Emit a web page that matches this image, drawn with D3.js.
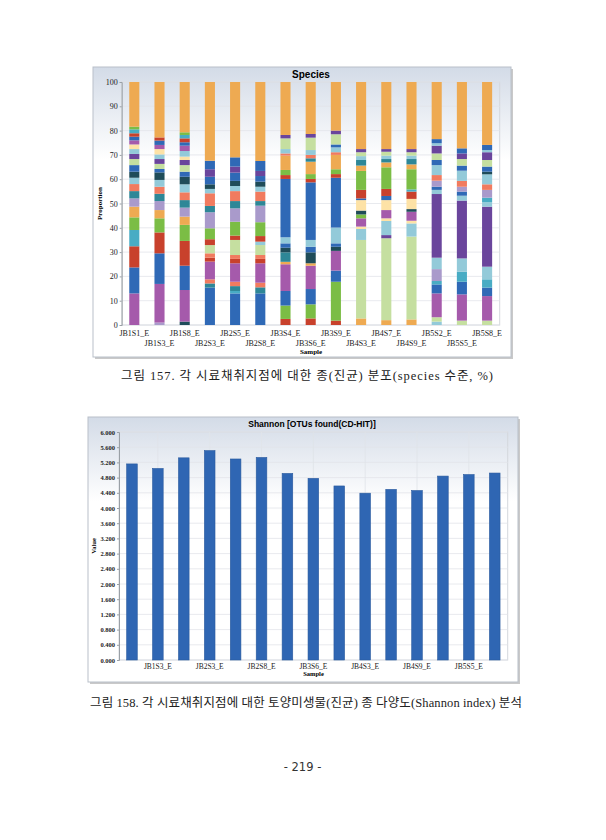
<!DOCTYPE html>
<html>
<head>
<meta charset="utf-8">
<script src="https://cdn.jsdelivr.net/npm/d3@7"></script>
<style>
  body { margin: 0; background: #fff; }
  svg { display: block; }
</style>
</head>
<body>
<svg id="page" width="606" height="840"></svg>
<script>
// Samples (x categories, shared by both charts)
var samples = ["JB1S1_E", "JB1S3_E", "JB1S8_E", "JB2S3_E", "JB2S5_E", "JB2S8_E", "JB3S4_E", "JB3S6_E",
               "JB3S9_E", "JB4S3_E", "JB4S7_E", "JB4S9_E", "JB5S2_E", "JB5S5_E", "JB5S8_E"];

// species groups -> colour
var speciesColor = {
    M: "#a55aab", B: "#2f69b6", R: "#c8412c", C: "#48acc4", G: "#7bbd45", O: "#eeaa52",
    L: "#a99acb", T: "#2e8797", S: "#f17b5f", LB: "#93cad9", DT: "#1f4c59", LG: "#c5dfa0",
    DP: "#6a459c", PY: "#fde2a6"
};

// species composition (%) of each sample, bottom to top
var JB1S1 = [["M",13],["B",10.7],["R",8.7],["C",6.7],["G",5.2],["O",4.4],["L",3.4],["T",3.0],["S",2.9],["LB",2.6],["DT",2.5],["B",2.7],["LG",2.5],["DP",2.1],["LB",2.0],["PY",1.9],["M",1.7],["B",1.5],["R",1.4],["C",1.6],["G",1.1],["O",18.4]];
var JB1S3 = [["L",1],["M",15.9],["B",12.6],["R",8.6],["G",5.8],["O",3.4],["L",3.7],["T",3.0],["S",2.9],["LB",2.8],["DT",3.1],["B",1.4],["LG",2.1],["DP",2.0],["LB",1.9],["PY",2.2],["M",1.7],["B",1.8],["R",1.3],["O",22.8]];
var JB1S8 = [["DT",1.4],["M",13.0],["B",10.0],["R",10.2],["G",6.6],["O",3.4],["L",3.7],["T",3.1],["S",3.2],["LB",3.3],["DT",3.1],["B",2.1],["LG",2.7],["DP",2.1],["PY",1.4],["LB",2.3],["M",2.2],["B",1.4],["R",1.6],["C",1.4],["G",1.1],["O",20.7]];
var JB2S3 = [["B",15.4],["T",1.7],["S",1.7],["M",7.3],["R",1.6],["S",1.8],["LG",3.4],["R",2.4],["G",4.5],["L",6.6],["T",2.6],["S",5.2],["LB",1.8],["DT",1.9],["B",3.1],["DP",3.1],["B",3.5],["O",32.4]];
var JB2S5 = [["B",13],["C",1],["T",2],["S",1.8],["M",7.6],["R",1.8],["S",1.6],["LG",6.2],["R",1.8],["G",5.7],["L",5.5],["T",3],["S",4.1],["LB",2.1],["DT",2.1],["B",3.4],["DP",2.5],["B",3.8],["O",31]];
var JB2S8 = [["B",13],["T",2.5],["S",1.9],["M",8],["R",1.8],["S",1.6],["LG",4.1],["LB",1.4],["R",2.3],["G",5.7],["L",6.8],["T",1.9],["S",3.9],["LB",2],["DT",2.1],["B",2.3],["DP",2.1],["B",4.1],["O",32.5]];
var JB3S4 = [["R",2.5],["G",5.5],["B",6],["M",11],["O",1],["T",3.9],["DT",1.9],["B",1.8],["LB",2.5],["B",24],["R",1.6],["G",2.1],["O",5.9],["S",0.9],["LB",1.8],["LG",4.4],["DP",1.4],["O",21.8]];
var JB3S6 = [["R",2.7],["G",5.8],["B",6.3],["M",9.6],["O",1],["DT",4.5],["B",2.3],["LB",2.8],["B",23.7],["R",1.4],["G",2],["O",5.1],["T",1.4],["S",1.4],["LB",2],["LG",5.1],["DP",1.5],["O",21.4]];
var JB3S9 = [["R",1.8],["G",16],["B",4.6],["M",8.1],["DT",1.7],["B",1.4],["LB",6.5],["B",20.5],["R",1.5],["G",2],["O",5.9],["S",1.1],["LB",2],["B",1.2],["LG",4.2],["DP",1.5],["O",20]];
var JB4S3 = [["O",2.7],["LG",32.3],["LB",4.5],["PY",1],["M",3.4],["G",1.6],["DT",1.6],["PY",4.3],["B",0.7],["R",3.5],["G",7.8],["O",2.2],["T",2.3],["LB",1.6],["LG",1.6],["DP",1.3],["O",27.6]];
var JB4S7 = [["O",2],["LG",33.7],["DP",1.3],["LB",5.8],["PY",1.1],["M",3.4],["PY",4.1],["B",1.7],["R",2.9],["G",8.9],["O",2],["T",1.4],["LB",1.4],["LG",1.6],["DP",1.1],["O",27.6]];
var JB4S9 = [["O",2.3],["LG",34.1],["LB",5.4],["PY",1.1],["M",3.7],["DT",1.1],["PY",4.2],["R",3],["C",0.9],["G",8.3],["O",2],["T",2.2],["LB",1.4],["LG",1.4],["DP",1.3],["O",27.6]];
var JB5S2 = [["LB",1.4],["LG",1.8],["M",9.8],["B",3.7],["C",1.4],["L",4.9],["LB",4.7],["DP",26.2],["LB",1.7],["B",1.3],["L",2.5],["S",2.3],["LB",4.1],["B",2.1],["LG",2.7],["DP",3.2],["LB",1],["B",1.7],["O",23.5]];
var JB5S5 = [["LG",1.8],["M",10.8],["B",5.2],["C",4.1],["LB",5.5],["DP",23.8],["LB",2],["B",1.7],["L",2],["S",2.4],["LB",4.2],["B",2.1],["LG",2.7],["DP",2.3],["B",2.1],["O",27.3]];
var JB5S8 = [["LG",1.8],["M",10.1],["B",3.5],["C",3.4],["LB",5.2],["DP",24.7],["LB",1.8],["C",1.9],["L",3.2],["S",2.3],["LB",4.1],["DT",1.1],["B",2.1],["LG",2.7],["DP",3.2],["LB",0.9],["B",2.1],["O",25.9]];
var composition = [JB1S1, JB1S3, JB1S8, JB2S3, JB2S5, JB2S8, JB3S4, JB3S6, JB3S9, JB4S3, JB4S7, JB4S9, JB5S2, JB5S5, JB5S8];

var proportionTicks = [0, 10, 20, 30, 40, 50, 60, 70, 80, 90, 100];

// Shannon index per sample
var shannon = [5.16, 5.04, 5.32, 5.51, 5.29, 5.33, 4.91, 4.78, 4.58, 4.39, 4.49, 4.46, 4.84, 4.88, 4.92];
var shannonTicks = d3.range(0, 6.0001, 0.4);
var shannonLabelled = ["JB1S3_E", "JB2S3_E", "JB2S8_E", "JB3S6_E", "JB4S3_E", "JB4S9_E", "JB5S5_E"];

//------------------------------------
var svg = d3.select("#page");
var serif = "'Liberation Serif', 'Times New Roman', serif";
var sans = "'Liberation Sans', Arial, sans-serif";
var kr = "'Liberation Serif', 'Noto Sans CJK KR', serif";

var defs = svg.append("defs");
var grad = defs.append("linearGradient").attr("id", "bg").attr("x1", 0).attr("y1", 0).attr("x2", 0).attr("y2", 1);
grad.append("stop").attr("offset", "0%").attr("stop-color", "#d3dbe7");
grad.append("stop").attr("offset", "32%").attr("stop-color", "#ffffff");
grad.append("stop").attr("offset", "100%").attr("stop-color", "#ffffff");

function frame(x, y, w, h) {
    svg.append("rect").attr("x", x + 2).attr("y", y + 2).attr("width", w).attr("height", h)
        .attr("fill", "#c9c9c9");
    svg.append("rect").attr("x", x).attr("y", y).attr("width", w).attr("height", h)
        .attr("fill", "url(#bg)").attr("stroke", "#b9c0c9").attr("stroke-width", 1);
}

// ================= chart 1: species stacked bars =================
frame(93, 67, 418, 290);
svg.append("text").attr("x", 311).attr("y", 77.5).attr("text-anchor", "middle")
    .style("font", "bold 10px " + sans).text("Species");

var x1 = d3.scaleBand().domain(samples).range([121.7, 499.7]).paddingInner(0.6).paddingOuter(0.3);
var y1 = d3.scaleLinear().domain([0, 100]).range([325, 82]);

var g1 = svg.append("g");
g1.append("rect").attr("x", 121.7).attr("y", 82).attr("width", 378).attr("height", 243)
    .attr("fill", "none").attr("stroke", "#d4d8dd");
g1.selectAll(".grid1").data(proportionTicks).enter().append("line")
    .attr("x1", 121.7).attr("x2", 499.7)
    .attr("y1", function (d) { return y1(d); }).attr("y2", function (d) { return y1(d); })
    .attr("stroke", "#e2e5ea").attr("stroke-width", 0.8);

composition.forEach(function (segs, i) {
    var acc = 0;
    var rows = segs.map(function (s) {
        var r = { key: s[0], y0: acc, y1: acc + s[1] };
        acc += s[1];
        return r;
    });
    g1.selectAll(".seg" + i).data(rows).enter().append("rect")
        .attr("x", x1(samples[i]))
        .attr("width", x1.bandwidth())
        .attr("y", function (d) { return y1(d.y1); })
        .attr("height", function (d) { return y1(d.y0) - y1(d.y1); })
        .attr("fill", function (d) { return speciesColor[d.key]; });
});

var ax1 = g1.append("g").attr("transform", "translate(121.7,0)")
    .call(d3.axisLeft(y1).tickValues(proportionTicks).tickSize(2).tickPadding(2));
ax1.select(".domain").attr("stroke", "#9aa0a6");
ax1.selectAll(".tick line").attr("stroke", "#9aa0a6");
ax1.selectAll("text").style("font", "8px " + serif).attr("fill", "#222");

g1.selectAll(".xl1").data(samples).enter().append("text")
    .attr("x", function (d) { return x1(d) + x1.bandwidth() / 2; })
    .attr("y", function (d, i) { return i % 2 === 0 ? 335.5 : 345.5; })
    .attr("text-anchor", "middle").style("font", "8px " + serif).attr("fill", "#222")
    .text(function (d) { return d; });
g1.append("text").attr("x", 311).attr("y", 354).attr("text-anchor", "middle")
    .style("font", "bold 7px " + serif).text("Sample");
g1.append("text").attr("transform", "translate(102,203.5) rotate(-90)").attr("text-anchor", "middle")
    .style("font", "bold 7px " + serif).text("Proportion");

svg.append("text").attr("x", 307).attr("y", 379.5).attr("text-anchor", "middle")
    .attr("textLength", 372).attr("lengthAdjust", "spacing")
    .style("font", "12.5px " + kr).attr("fill", "#222")
    .text("그림 157. 각 시료채취지점에 대한 종(진균) 분포(species 수준, %)");

// ================= chart 2: Shannon index =================
frame(88, 417, 430, 265);
svg.append("text").attr("x", 312).attr("y", 427).attr("text-anchor", "middle")
    .style("font", "bold 8.5px " + sans).text("Shannon [OTUs found(CD-HIT)]");

var x2 = d3.scaleBand().domain(samples).range([119, 507.7]).paddingInner(0.59).paddingOuter(0.295);
var y2 = d3.scaleLinear().domain([0, 6]).range([660, 432]);

var g2 = svg.append("g");
g2.append("rect").attr("x", 119).attr("y", 432).attr("width", 388.7).attr("height", 228)
    .attr("fill", "none").attr("stroke", "#d4d8dd");
g2.selectAll(".grid2").data(shannonTicks).enter().append("line")
    .attr("x1", 119).attr("x2", 507.7)
    .attr("y1", function (d) { return y2(d); }).attr("y2", function (d) { return y2(d); })
    .attr("stroke", "#e2e5ea").attr("stroke-width", 0.8);
g2.selectAll(".vgrid2").data(shannonLabelled).enter().append("line")
    .attr("x1", function (d) { return x2(d) + x2.bandwidth() / 2; })
    .attr("x2", function (d) { return x2(d) + x2.bandwidth() / 2; })
    .attr("y1", 432).attr("y2", 660)
    .attr("stroke", "#dfe3e8").attr("stroke-width", 0.8);

g2.selectAll(".bar2").data(shannon).enter().append("rect")
    .attr("x", function (d, i) { return x2(samples[i]); })
    .attr("width", x2.bandwidth())
    .attr("y", function (d) { return y2(d); })
    .attr("height", function (d) { return y2(0) - y2(d); })
    .attr("fill", "#2f66b3").attr("stroke", "#2a5a9e").attr("stroke-width", 0.6);

var ax2 = g2.append("g").attr("transform", "translate(119,0)")
    .call(d3.axisLeft(y2).tickValues(shannonTicks).tickFormat(d3.format(".3f")).tickSize(2).tickPadding(2));
ax2.select(".domain").attr("stroke", "#9aa0a6");
ax2.selectAll(".tick line").attr("stroke", "#9aa0a6");
ax2.selectAll("text").style("font", "bold 6.5px " + serif).attr("fill", "#222");

g2.selectAll(".xl2").data(shannonLabelled).enter().append("text")
    .attr("x", function (d) { return x2(d) + x2.bandwidth() / 2; })
    .attr("y", 669).attr("text-anchor", "middle").style("font", "7.5px " + serif).attr("fill", "#222")
    .text(function (d) { return d; });
g2.append("text").attr("x", 313.5).attr("y", 676).attr("text-anchor", "middle")
    .style("font", "bold 6.5px " + serif).text("Sample");
g2.append("text").attr("transform", "translate(96,546) rotate(-90)").attr("text-anchor", "middle")
    .style("font", "bold 6.5px " + serif).text("Value");

svg.append("text").attr("x", 306).attr("y", 707).attr("text-anchor", "middle")
    .attr("textLength", 432).attr("lengthAdjust", "spacing")
    .style("font", "12.5px " + kr).attr("fill", "#222")
    .text("그림 158. 각 시료채취지점에 대한 토양미생물(진균) 종 다양도(Shannon index) 분석");

svg.append("text").attr("x", 302.5).attr("y", 771).attr("text-anchor", "middle")
    .style("font", "11.5px 'DejaVu Sans', sans-serif").attr("fill", "#333").text("- 219 -");
</script>
</body>
</html>
